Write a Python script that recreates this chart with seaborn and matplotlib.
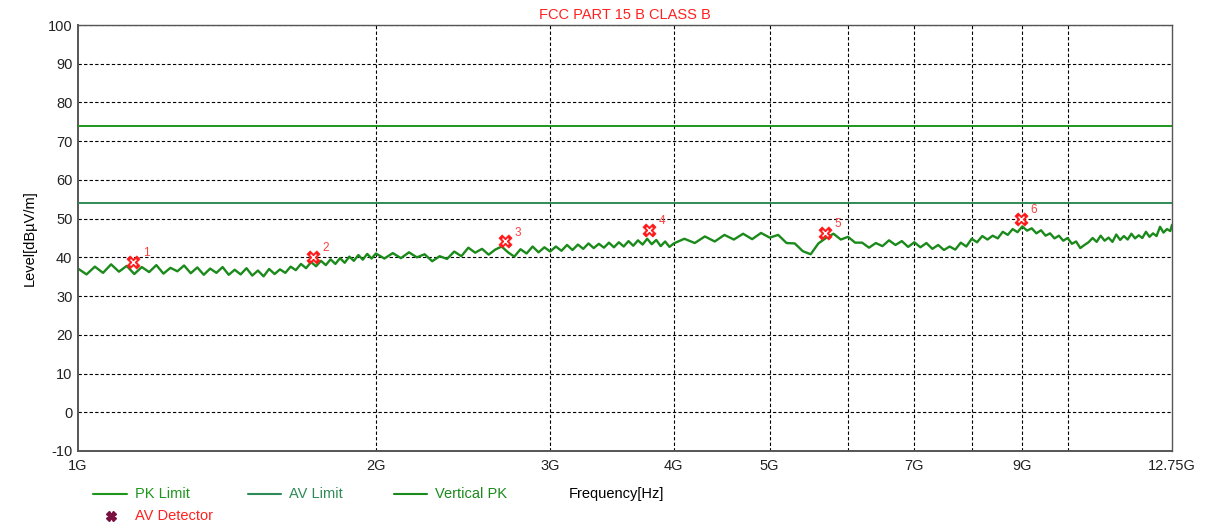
import matplotlib
matplotlib.use("Agg")
import matplotlib.pyplot as plt
import seaborn as sns
import pandas as pd
from matplotlib.lines import Line2D
from matplotlib.ticker import FixedLocator, NullLocator

# ---- data ----
title = "FCC PART 15 B CLASS B"
pk_limit = 74.0
av_limit = 54.0

# sweep frequencies in GHz
freq = [
    1.00, 1.02, 1.04, 1.06, 1.08, 1.10, 1.12, 1.14, 1.16, 1.18,
    1.20, 1.22, 1.24, 1.26, 1.28, 1.30, 1.32, 1.34, 1.36, 1.38,
    1.40, 1.42, 1.44, 1.46, 1.48, 1.50, 1.52, 1.54, 1.56, 1.58,
    1.60, 1.62, 1.64, 1.66, 1.68, 1.70, 1.72, 1.74, 1.76, 1.78,
    1.80, 1.82, 1.84, 1.86, 1.88, 1.90, 1.92, 1.94, 1.96, 1.98,
    2.00, 2.04, 2.08, 2.12, 2.16, 2.20, 2.24, 2.28, 2.32, 2.36,
    2.40, 2.44, 2.48, 2.52, 2.56, 2.60, 2.64, 2.68, 2.72, 2.76,
    2.80, 2.84, 2.88, 2.92, 2.96, 3.00, 3.04, 3.08, 3.12, 3.16,
    3.20, 3.24, 3.28, 3.32, 3.36, 3.40, 3.44, 3.48, 3.52, 3.56,
    3.60, 3.64, 3.68, 3.72, 3.76, 3.80, 3.84, 3.88, 3.92, 3.96,
    4.0, 4.1, 4.2, 4.3, 4.4, 4.5, 4.6, 4.7, 4.8, 4.9,
    5.0, 5.1, 5.2, 5.3, 5.4, 5.5, 5.6, 5.7, 5.8, 5.9,
    6.0, 6.1, 6.2, 6.3, 6.4, 6.5, 6.6, 6.7, 6.8, 6.9,
    7.0, 7.1, 7.2, 7.3, 7.4, 7.5, 7.6, 7.7, 7.8, 7.9,
    8.0, 8.1, 8.2, 8.3, 8.4, 8.5, 8.6, 8.7, 8.8, 8.9,
    9.0, 9.1, 9.2, 9.3, 9.4, 9.5, 9.6, 9.7, 9.8, 9.9,
    10.0, 10.1, 10.2, 10.3, 10.4, 10.5, 10.6, 10.7, 10.8, 10.9,
    11.0, 11.1, 11.2, 11.3, 11.4, 11.5, 11.6, 11.7, 11.8, 11.9,
    12.0, 12.1, 12.2, 12.3, 12.4, 12.5, 12.6, 12.7, 12.75,
]
# Vertical PK level, dBuV/m
level = [
    37.1, 35.6, 37.6, 36.0, 38.2, 36.3, 37.8, 35.7, 37.5, 36.2,
    38.0, 35.8, 37.3, 36.4, 37.9, 35.9, 37.4, 35.5, 37.1, 36.0,
    37.5, 35.5, 36.8, 35.6, 37.2, 35.3, 36.6, 35.1, 37.0, 35.7,
    36.9, 36.0, 37.6, 36.7, 38.3, 37.2, 38.8, 37.7, 39.1, 38.0,
    39.5, 38.3, 39.8, 38.6, 40.2, 39.1, 40.6, 39.4, 40.9, 39.7,
    41.0, 39.7, 41.1, 39.8, 41.3, 40.0, 40.8, 39.0, 40.3, 39.6,
    41.5, 40.3, 42.5, 41.2, 42.2, 40.7, 42.0, 42.8, 41.3, 40.2,
    42.1, 41.0, 42.8, 41.3, 42.6, 41.5, 42.8, 41.7, 43.2, 41.9,
    43.3, 42.2, 43.6, 42.4, 43.5, 42.5, 43.8, 42.6, 43.9, 42.8,
    44.2, 43.0, 44.4, 43.3, 44.8, 43.4, 44.5, 42.9, 44.1, 42.7,
    43.6, 44.8, 43.7, 45.4, 44.1, 45.8, 44.6, 46.1, 44.7, 46.3,
    45.1, 45.8, 43.7, 43.6, 41.6, 40.8, 43.6, 45.0, 46.1, 44.6,
    45.3, 43.8, 43.8, 42.5, 43.7, 42.9, 44.4, 43.2, 44.2, 42.7,
    43.9, 42.6, 43.7, 42.2, 43.2, 41.9, 42.8, 42.0, 43.8, 42.8,
    44.8, 43.9, 45.5, 44.6, 45.6, 44.9, 46.6, 45.8, 47.3, 46.5,
    48.0, 46.9, 47.5, 46.2, 47.0, 45.6, 46.2, 44.9, 45.6, 44.3,
    45.0, 43.5, 44.1, 42.4, 43.2, 43.9, 45.0, 44.0, 45.6, 44.3,
    45.1, 44.0, 45.9, 44.5, 45.5, 44.6, 46.1, 44.9, 45.7, 45.0,
    46.6, 45.3, 46.2, 45.5, 47.9, 46.4, 47.3, 46.8, 48.4,
]

# AV detector markers
mark_no = ["1", "2", "3", "4", "5", "6"]
mark_freq = [1.137, 1.728, 2.701, 3.776, 5.687, 8.97]
mark_level = [38.8, 40.1, 44.2, 47.1, 46.3, 49.9]

xtick_vals = [1, 2, 3, 4, 5, 7, 9, 12.75]
xtick_labels = ["1G", "2G", "3G", "4G", "5G", "7G", "9G", "12.75G"]
xgrid_vals = [2, 3, 4, 5, 6, 7, 8, 9, 10]

trace = pd.DataFrame({"freq": freq, "level": level})
marks = pd.DataFrame({"freq": mark_freq, "level": mark_level, "no": mark_no})

sns.set_style("white")
plt.rcParams["font.family"] = ["Liberation Sans", "DejaVu Sans"]
plt.rcParams["axes.unicode_minus"] = False

W, H = 1210, 527
fig = plt.figure(figsize=(W / 100, H / 100), dpi=100)
ax = fig.add_axes([78 / W, 1 - 451 / H, (1172 - 78) / W, (451 - 25) / H])

PK_COL = "#1e961e"
AV_COL = "#2e8b57"
TR_COL = "#1a8a1a"

sns.lineplot(data=trace, x="freq", y="level", ax=ax, color=TR_COL, lw=1.7,
             estimator=None, sort=False)
ax.axhline(pk_limit, color=PK_COL, lw=1.4, zorder=3)
ax.axhline(av_limit, color=AV_COL, lw=1.4, zorder=3)

sns.scatterplot(data=marks, x="freq", y="level", ax=ax, marker="X", s=90,
                color="#ff1a1a", edgecolor="#ff1a1a", linewidth=0.5, zorder=5)
ax.scatter(mark_freq, mark_level, marker="x", s=18, color="white", lw=1.0, zorder=6)
for f, l, n in zip(mark_freq, mark_level, mark_no):
    ax.annotate(n, (f, l), xytext=(7, 4), textcoords="offset points",
                color="#ff4040", fontsize=8.5)

ax.set_xscale("log")
ax.set_xlim(1, 12.75)
ax.set_ylim(-10, 100)
ax.set_yticks(range(-10, 101, 10))
ax.xaxis.set_major_locator(FixedLocator(xtick_vals))
ax.xaxis.set_minor_locator(NullLocator())
ax.set_xticklabels(xtick_labels)
ax.tick_params(axis="both", length=0, labelsize=10.5, colors="#222222")
ax.tick_params(axis="y", pad=4)
ax.tick_params(axis="x", pad=6)

ax.yaxis.grid(True, ls=(0, (3, 2)), color="black", lw=0.8)
ax.xaxis.grid(False)
for g in xgrid_vals:
    ax.axvline(g, ls=(0, (3, 2)), color="black", lw=0.8, zorder=1)

ax.set_xlabel("")
ax.set_ylabel("Level[dBµV/m]", fontsize=10.5, labelpad=8, color="black")
for s in ax.spines.values():
    s.set_color("#555555")
    s.set_linewidth(1.0)
    s.set_visible(True)
ax.spines["left"].set_linewidth(1.4)
ax.spines["bottom"].set_linewidth(1.4)

fig.text(625 / W, 1 - 15 / H, title, color="#ff2020", fontsize=10.5,
         ha="center", va="center")


def fx(x):
    return x / W


def fy(y):
    return 1 - y / H


# legend rows drawn below the plot
legend_items = [("PK Limit", PK_COL, 93, 127), ("AV Limit", AV_COL, 248, 281),
                ("Vertical PK", TR_COL, 394, 427)]
for name, col, x0, x1 in legend_items:
    fig.add_artist(Line2D([fx(x0), fx(x1)], [fy(494), fy(494)], color=col, lw=1.5))
    fig.text(fx(x1 + 8), fy(494), name, color=col, fontsize=10.5, va="center")
fig.text(fx(569), fy(494), "Frequency[Hz]", color="black", fontsize=10.5, va="center")
fig.add_artist(Line2D([fx(111)], [fy(516)], marker="X", ms=7, color="#7a1040",
                      ls="none"))
fig.text(fx(135), fy(516), "AV Detector", color="#ff2020", fontsize=10.5, va="center")

fig.savefig("out.png", dpi=100)
